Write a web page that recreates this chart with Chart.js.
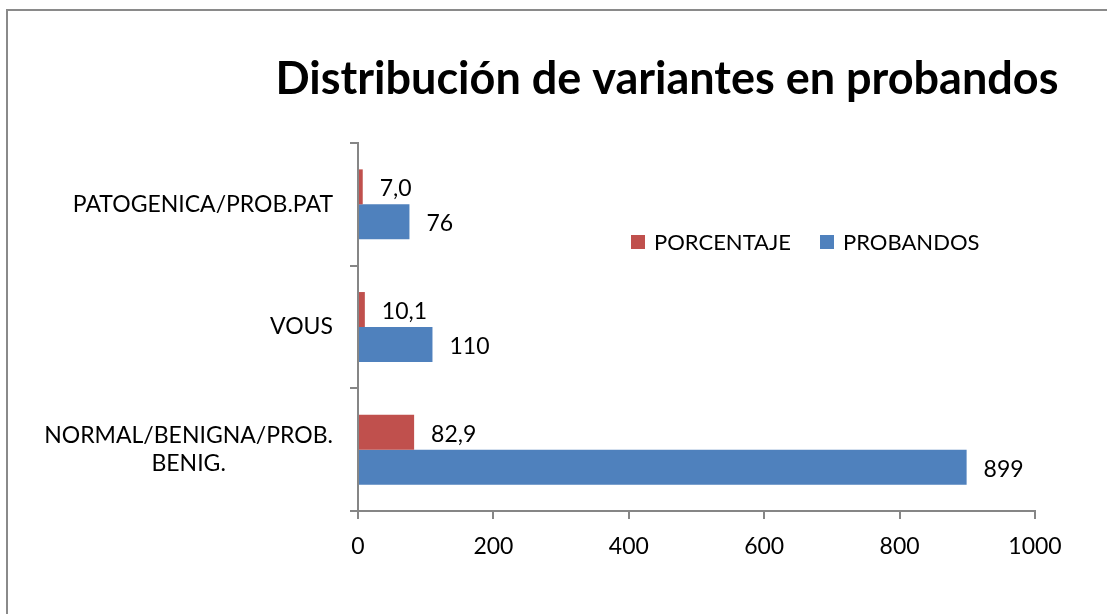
<!DOCTYPE html>
<html>
<head>
<meta charset="utf-8">
<script src="https://cdn.jsdelivr.net/npm/chart.js@4/dist/chart.umd.min.js"></script>
<style>
  html, body { margin: 0; padding: 0; background: #fff; }
  #wrap { position: relative; width: 1107px; height: 614px; }
</style>
</head>
<body>
<div id="wrap"><canvas id="myChart" width="1107" height="614"></canvas></div>
<script>
// Datos del gráfico
const categorias = [['PATOGENICA/PROB.PAT'], ['VOUS'], ['NORMAL/BENIGNA/PROB.', 'BENIG.']];
const porcentaje = [7.0, 10.1, 82.9];
const probandos = [76, 110, 899];
const ticksX = [0, 200, 400, 600, 800, 1000];

const FUENTE = 'Lato, "Open Sans", sans-serif';
const GRIS = '#868686';

// Marco, título, etiquetas del eje Y, valores y leyenda
const extras = {
    id: 'extras',
    beforeDraw(chart) {
        const ctx = chart.ctx;
        ctx.save();
        ctx.fillStyle = '#fff';
        ctx.fillRect(0, 0, chart.width, chart.height);
        ctx.strokeStyle = '#8a8a8a';
        ctx.lineWidth = 2;
        ctx.beginPath();
        ctx.moveTo(7, chart.height);
        ctx.lineTo(7, 10);
        ctx.lineTo(chart.width, 10);
        ctx.stroke();
        ctx.restore();
    },
    afterDraw(chart) {
        const ctx = chart.ctx;
        ctx.save();
        // título
        ctx.fillStyle = '#000';
        ctx.font = 'bold 45px ' + FUENTE;
        ctx.textAlign = 'center';
        ctx.textBaseline = 'middle';
        ctx.fillText('Distribución de variantes en probandos', 667, 79);

        // etiquetas de categorías
        const y = chart.scales.y;
        ctx.font = '23px ' + FUENTE;
        categorias.forEach((lineas, i) => {
            const cy = y.getPixelForTick(i);
            let ancho = 0;
            lineas.forEach(l => { ancho = Math.max(ancho, ctx.measureText(l).width); });
            const cx = 333 - ancho / 2;
            const alto = 28;
            lineas.forEach((l, k) => {
                ctx.fillText(l, cx, cy + (k - (lineas.length - 1) / 2) * alto);
            });
        });

        // valores al final de las barras
        ctx.textAlign = 'left';
        chart.data.datasets.forEach((ds, di) => {
            const meta = chart.getDatasetMeta(di);
            meta.data.forEach((bar, i) => {
                const v = ds.data[i];
                const txt = di === 0 ? v.toFixed(1).replace('.', ',') : String(v);
                ctx.fillText(txt, bar.x + 17, bar.y + 2);
            });
        });

        // leyenda
        const posLeyenda = [631, 820];
        const ly = 242;
        ctx.font = '22px ' + FUENTE;
        chart.data.datasets.forEach((ds, di) => {
            const lx = posLeyenda[di];
            ctx.fillStyle = ds.backgroundColor;
            ctx.fillRect(lx, ly - 7, 14, 14);
            ctx.fillStyle = '#000';
            ctx.fillText(ds.label, lx + 23, ly + 1);
        });
        ctx.restore();
    }
};

const ctx = document.getElementById('myChart').getContext('2d');
const myChart = new Chart(ctx, {
    type: 'bar',
    data: {
        labels: categorias,
        datasets: [
            { label: 'PORCENTAJE', data: porcentaje, backgroundColor: '#C0504D' },
            { label: 'PROBANDOS', data: probandos, backgroundColor: '#4F81BD' }
        ]
    },
    options: {
        indexAxis: 'y',
        responsive: false,
        animation: false,
        categoryPercentage: 0.57,
        barPercentage: 1.0,
        layout: { padding: { top: 143, right: 72, left: 0, bottom: 0 } },
        plugins: {
            legend: { display: false },
            title: { display: false },
            tooltip: { enabled: false }
        },
        scales: {
            x: {
                min: 0,
                max: 1000,
                afterBuildTicks: (s) => { s.ticks = ticksX.map(v => ({ value: v })); },
                grid: { drawOnChartArea: false, tickLength: 8, color: GRIS, lineWidth: 2 },
                border: { color: GRIS, width: 2 },
                ticks: {
                    color: '#000',
                    font: { family: FUENTE, size: 23 },
                    padding: 14,
                    callback: (v) => String(v)
                },
                afterFit: (s) => { s.height = 103; }
            },
            y: {
                grid: { drawOnChartArea: false, tickLength: 8, color: GRIS, lineWidth: 2 },
                border: { color: GRIS, width: 2 },
                ticks: { color: 'rgba(0,0,0,0)', font: { family: FUENTE, size: 23 } },
                afterFit: (s) => { s.width = 358; }
            }
        }
    },
    plugins: [extras]
});
</script>
</body>
</html>
